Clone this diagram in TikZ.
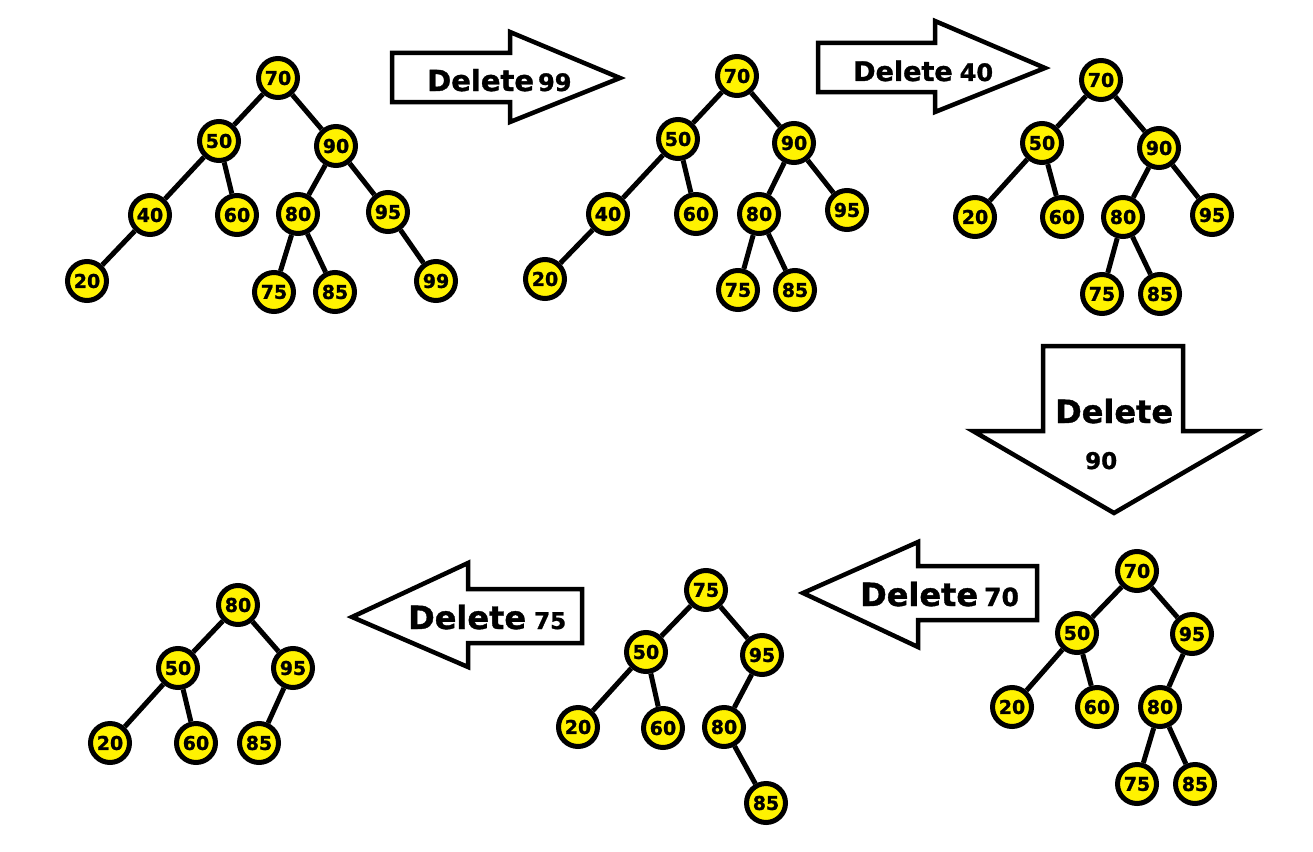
\documentclass[tikz,border=0pt]{standalone}
\usepackage{fontspec}
\setmainfont{DejaVu Sans}
\newfontfamily\heavyfont{DejaVu Sans Bold}[FakeBold=1.2]
\definecolor{nodeyellow}{HTML}{FFF200}
\tikzset{
  tn/.style={circle, draw=black, line width=5pt, fill=nodeyellow, inner sep=0pt,
    minimum size=39pt, font=\heavyfont\fontsize{19}{20}\selectfont},
  te/.style={line width=5pt, draw=black},
  bigarrow/.style={draw=black, fill=white, line width=4.5pt, line join=miter},
  lbl/.style={inner sep=0pt, anchor=base west, font=\heavyfont}
}
\newcommand{\Dl}[1]{{\fontsize{#1}{#1}\selectfont Delete}}
\newcommand{\Nm}[2]{{\fontsize{#1}{#1}\selectfont #2}}
\begin{document}
\begin{tikzpicture}[x=1pt,y=-1pt]
\useasboundingbox[fill=white] (0,0) rectangle (1313,851);

% ---------- arrows ----------
\draw[bigarrow] (392,53) -- (510,53) -- (510,32) -- (620,78) -- (510,122) -- (510,102) -- (392,102) -- cycle;
\node[lbl] (l1) at (427,91) {\Dl{29}\hspace{4pt}\Nm{24}{99}};

\draw[bigarrow] (818,43) -- (935,43) -- (935,21) -- (1045,68) -- (935,112) -- (935,92) -- (818,92) -- cycle;
\node[lbl] (l2) at (853,81) {\Dl{27}\hspace{7pt}\Nm{24}{40}};

\draw[bigarrow] (1043,346) -- (1183,346) -- (1183,431) -- (1255,431) -- (1114,513) -- (973,431) -- (1043,431) -- cycle;
\node[lbl] (l3a) at (1055,423) {\Dl{32}};
\node[lbl] (l3b) at (1085,469) {\Nm{23}{90}};

\draw[bigarrow] (1037,566) -- (918,566) -- (918,542) -- (803,593) -- (918,647) -- (918,620) -- (1037,620) -- cycle;
\node[lbl] (l4) at (860,606) {\Dl{32}\hspace{6pt}\Nm{25}{70}};

\draw[bigarrow] (582,589) -- (468,589) -- (468,563) -- (352,617) -- (468,667) -- (468,643) -- (582,643) -- cycle;
\node[lbl] (l5) at (408,629) {\Dl{32}\hspace{8pt}\Nm{23}{75}};

% ---------- tree 1 ----------
\node[tn] (a70) at (278,78) {70};
\node[tn] (a50) at (219,141) {50};
\node[tn] (a90) at (336,146) {90};
\node[tn] (a40) at (150,215) {40};
\node[tn] (a60) at (237,215) {60};
\node[tn] (a80) at (298,214) {80};
\node[tn] (a95) at (388,212) {95};
\node[tn] (a20) at (87,281) {20};
\node[tn] (a75) at (274,292) {75};
\node[tn] (a85) at (335,292) {85};
\node[tn] (a99) at (436,281) {99};
\draw[te] (a70)--(a50) (a70)--(a90) (a50)--(a40) (a50)--(a60) (a90)--(a80) (a90)--(a95)
  (a40)--(a20) (a80)--(a75) (a80)--(a85) (a95)--(a99);

% ---------- tree 2 ----------
\node[tn] (b70) at (737,76) {70};
\node[tn] (b50) at (678,139) {50};
\node[tn] (b90) at (794,143) {90};
\node[tn] (b40) at (608,214) {40};
\node[tn] (b60) at (696,214) {60};
\node[tn] (b80) at (759,214) {80};
\node[tn] (b95) at (847,210) {95};
\node[tn] (b20) at (545,279) {20};
\node[tn] (b75) at (738,290) {75};
\node[tn] (b85) at (795,290) {85};
\draw[te] (b70)--(b50) (b70)--(b90) (b50)--(b40) (b50)--(b60) (b90)--(b80) (b90)--(b95)
  (b40)--(b20) (b80)--(b75) (b80)--(b85);

% ---------- tree 3 ----------
\node[tn] (c70) at (1101,80) {70};
\node[tn] (c50) at (1042,143) {50};
\node[tn] (c90) at (1159,148) {90};
\node[tn] (c20) at (975,217) {20};
\node[tn] (c60) at (1062,217) {60};
\node[tn] (c80) at (1123,217) {80};
\node[tn] (c95) at (1212,215) {95};
\node[tn] (c75) at (1102,294) {75};
\node[tn] (c85) at (1160,294) {85};
\draw[te] (c70)--(c50) (c70)--(c90) (c50)--(c20) (c50)--(c60) (c90)--(c80) (c90)--(c95)
  (c80)--(c75) (c80)--(c85);

% ---------- tree 4 ----------
\node[tn] (d70) at (1137,571) {70};
\node[tn] (d50) at (1077,633) {50};
\node[tn] (d95) at (1192,634) {95};
\node[tn] (d20) at (1012,707) {20};
\node[tn] (d60) at (1097,707) {60};
\node[tn] (d80) at (1160,707) {80};
\node[tn] (d75) at (1137,784) {75};
\node[tn] (d85) at (1195,784) {85};
\draw[te] (d70)--(d50) (d70)--(d95) (d50)--(d20) (d50)--(d60) (d95)--(d80)
  (d80)--(d75) (d80)--(d85);

% ---------- tree 5 ----------
\node[tn] (e75) at (706,590) {75};
\node[tn] (e50) at (646,652) {50};
\node[tn] (e95) at (762,655) {95};
\node[tn] (e20) at (578,727) {20};
\node[tn] (e60) at (663,728) {60};
\node[tn] (e80) at (724,727) {80};
\node[tn] (e85) at (766,803) {85};
\draw[te] (e75)--(e50) (e75)--(e95) (e50)--(e20) (e50)--(e60) (e95)--(e80) (e80)--(e85);

% ---------- tree 6 ----------
\node[tn] (f80) at (238,605) {80};
\node[tn] (f50) at (178,668) {50};
\node[tn] (f95) at (293,668) {95};
\node[tn] (f20) at (110,743) {20};
\node[tn] (f60) at (196,743) {60};
\node[tn] (f85) at (259,743) {85};
\draw[te] (f80)--(f50) (f80)--(f95) (f50)--(f20) (f50)--(f60) (f95)--(f85);
\end{tikzpicture}
\end{document}
